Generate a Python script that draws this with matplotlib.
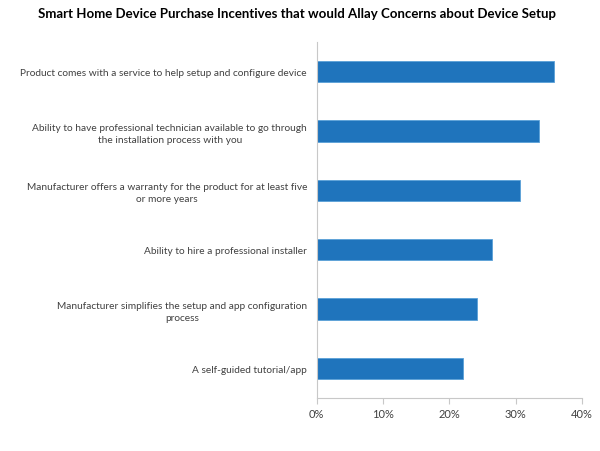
import matplotlib.pyplot as plt
from matplotlib.ticker import PercentFormatter

# Datos del grafico
categorias = [
    "Product comes with a service to help setup and configure device",
    "Ability to have professional technician available to go through\nthe installation process with you",
    "Manufacturer offers a warranty for the product for at least five\nor more years",
    "Ability to hire a professional installer",
    "Manufacturer simplifies the setup and app configuration\nprocess",
    "A self-guided tutorial/app",
]
valores = [35.8, 33.5, 30.7, 26.4, 24.1, 22.1]
ticks_x = [0, 10, 20, 30, 40]

plt.rcParams['font.family'] = ['Lato', 'DejaVu Sans']

fig = plt.figure(figsize=(6, 4.52), dpi=100)
ax = fig.add_axes([0.528, 0.117, 0.442, 0.788])

posiciones = list(range(len(categorias)))
ax.barh(posiciones, valores, height=0.36, color='#1f74bc', edgecolor='#5aa0d8', linewidth=0.6)
ax.set_ylim(len(categorias) - 0.5, -0.5)
ax.set_xlim(0, 40)
ax.set_xticks(ticks_x)
ax.xaxis.set_major_formatter(PercentFormatter(decimals=0))

ax.set_yticks(posiciones)
ax.set_yticklabels(categorias, fontsize=7.3, color='#404040', multialignment='center', linespacing=1.45)
ax.tick_params(axis='y', length=0, pad=7)
ax.tick_params(axis='x', labelsize=8, labelcolor='#404040', color='#c8c8c8', length=4, direction='out', pad=3)

for lado in ['top', 'right']:
    ax.spines[lado].set_visible(False)
for lado in ['left', 'bottom']:
    ax.spines[lado].set_color('#c8c8c8')

fig.text(0.495, 0.968, "Smart Home Device Purchase Incentives that would Allay Concerns about Device Setup",
         ha='center', va='center', fontsize=9.5, fontweight='bold', color='black')

fig.savefig('out.png', dpi=100, facecolor='white')
